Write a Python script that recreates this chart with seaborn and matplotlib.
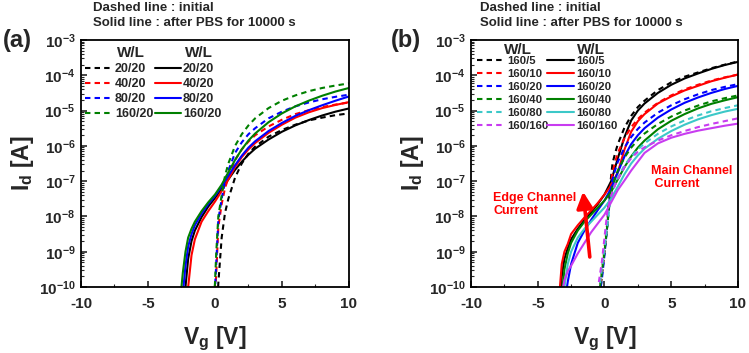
import math

import matplotlib
matplotlib.use("Agg")
import matplotlib.pyplot as plt
import pandas as pd
import seaborn as sns
from matplotlib.lines import Line2D
from matplotlib.ticker import FixedLocator, FuncFormatter, LogLocator, MultipleLocator, NullFormatter

# ---- data (log10 of drain current) ----
# panel (a): W/L = x/20
wl_a = ["20/20", "40/20", "80/20", "160/20"]
vg_a_initial = [-0.2, 0, 0.1, 0.25, 0.5, 0.75, 1, 1.5, 2, 2.5, 3, 4, 5, 6, 7, 8, 9, 10]
a_initial = {
    "20/20":  [-12.5, -11.5, -11.0, -9.9, -8.6, -7.9, -7.5, -6.9, -6.5, -6.22, -6.02, -5.74, -5.55, -5.4, -5.28, -5.2, -5.13, -5.08],
    "40/20":  [-11.2, -10.3, -9.6, -8.3, -7.65, -7.2, -6.9, -6.4, -6.1, -5.88, -5.7, -5.45, -5.26, -5.1, -4.99, -4.9, -4.83, -4.77],
    "80/20":  [-11.0, -10.1, -9.3, -8.1, -7.5, -7.0, -6.7, -6.2, -5.9, -5.67, -5.5, -5.22, -5.03, -4.88, -4.77, -4.68, -4.61, -4.55],
    "160/20": [-10.8, -9.9, -9.0, -8.0, -7.4, -6.85, -6.5, -6.0, -5.67, -5.42, -5.22, -4.93, -4.72, -4.57, -4.45, -4.36, -4.29, -4.23],
}
vg_a_pbs = [-2.6, -2.4, -2.2, -2, -1.75, -1.5, -1, -0.5, 0, 0.5, 1, 1.5, 2, 2.5, 3, 4, 5, 6, 7, 8, 9, 10]
a_pbs = {
    "20/20":  [-11.5, -10.7, -10.0, -9.2, -8.7, -8.4, -8.02, -7.72, -7.48, -7.22, -6.95, -6.68, -6.45, -6.25, -6.08, -5.82, -5.6, -5.42, -5.27, -5.14, -5.03, -4.94],
    "40/20":  [-12.0, -11.2, -10.5, -10.0, -9.1, -8.65, -8.15, -7.85, -7.58, -7.28, -6.95, -6.6, -6.32, -6.1, -5.92, -5.63, -5.4, -5.2, -5.05, -4.93, -4.84, -4.76],
    "80/20":  [-11.0, -10.2, -9.4, -8.85, -8.5, -8.25, -7.92, -7.65, -7.42, -7.15, -6.85, -6.55, -6.28, -6.05, -5.87, -5.58, -5.35, -5.15, -4.99, -4.85, -4.72, -4.6],
    "160/20": [-10.4, -9.6, -9.0, -8.6, -8.35, -8.15, -7.85, -7.6, -7.38, -7.1, -6.75, -6.4, -6.1, -5.85, -5.65, -5.33, -5.08, -4.88, -4.72, -4.58, -4.46, -4.36],
}

# panel (b): W/L = 160/x
wl_b = ["160/5", "160/10", "160/20", "160/40", "160/80", "160/160"]
vg_b_initial = [-0.6, -0.4, -0.2, 0, 0.2, 0.4, 0.6, 0.8, 1, 1.5, 2, 2.5, 3, 4, 5, 6, 7, 8, 9, 10]
b_initial = {
    "160/5":   [-11.0, -10.4, -9.7, -9.0, -8.3, -7.2, -6.5, -6.2, -5.95, -5.48, -5.15, -4.9, -4.72, -4.42, -4.2, -4.04, -3.92, -3.8, -3.7, -3.61],
    "160/10":  [-11.0, -10.3, -9.6, -8.9, -8.2, -7.3, -6.75, -6.45, -6.2, -5.78, -5.47, -5.24, -5.06, -4.78, -4.57, -4.4, -4.27, -4.15, -4.06, -3.98],
    "160/20":  [-10.8, -10.3, -9.8, -9.1, -8.3, -7.45, -6.95, -6.68, -6.45, -6.05, -5.75, -5.52, -5.34, -5.06, -4.85, -4.68, -4.54, -4.42, -4.33, -4.25],
    "160/40":  [-10.8, -10.2, -9.6, -9.0, -8.3, -7.55, -7.15, -6.9, -6.7, -6.33, -6.05, -5.83, -5.65, -5.38, -5.17, -5.0, -4.86, -4.74, -4.65, -4.57],
    "160/80":  [-10.7, -10.1, -9.5, -8.9, -8.3, -7.65, -7.3, -7.08, -6.9, -6.55, -6.3, -6.1, -5.93, -5.66, -5.45, -5.28, -5.14, -5.02, -4.93, -4.85],
    "160/160": [-10.4, -9.8, -9.3, -8.6, -7.9, -7.55, -7.3, -7.1, -6.95, -6.6, -6.35, -6.17, -6.04, -5.85, -5.7, -5.58, -5.47, -5.38, -5.3, -5.22],
}
vg_b_pbs = [-3.6, -3.4, -3.2, -3, -2.75, -2.5, -2, -1.5, -1, -0.5, 0, 0.5, 1, 1.5, 2, 2.5, 3, 4, 5, 6, 7, 8, 9, 10]
b_pbs = {
    "160/5":   [-11.5, -10.6, -9.7, -9.2, -8.9, -8.65, -8.35, -8.1, -7.88, -7.65, -7.38, -7.0, -6.35, -5.75, -5.28, -5.0, -4.8, -4.5, -4.27, -4.09, -3.95, -3.82, -3.71, -3.62],
    "160/10":  [-11.2, -10.3, -9.35, -9.0, -8.78, -8.5, -8.25, -8.03, -7.83, -7.62, -7.38, -7.12, -6.75, -6.1, -5.6, -5.3, -5.1, -4.8, -4.6, -4.43, -4.3, -4.17, -4.07, -3.98],
    "160/20":  [-12.0, -11.5, -11.0, -10.5, -9.85, -9.35, -8.75, -8.4, -8.1, -7.82, -7.55, -7.2, -6.75, -6.3, -5.95, -5.7, -5.5, -5.2, -4.97, -4.78, -4.63, -4.5, -4.39, -4.3],
    "160/40":  [-11.5, -10.8, -10.2, -9.5, -9.05, -8.75, -8.4, -8.15, -7.95, -7.75, -7.55, -7.3, -6.95, -6.6, -6.3, -6.05, -5.85, -5.53, -5.29, -5.1, -4.94, -4.81, -4.71, -4.62],
    "160/80":  [-11.8, -11.1, -10.5, -10.0, -9.35, -9.0, -8.6, -8.35, -8.15, -7.95, -7.75, -7.5, -7.15, -6.8, -6.5, -6.27, -6.08, -5.8, -5.58, -5.4, -5.25, -5.13, -5.03, -4.95],
    "160/160": [-11.5, -10.8, -10.2, -9.8, -9.55, -9.4, -9.05, -8.75, -8.45, -8.2, -7.95, -7.6, -7.25, -6.98, -6.7, -6.45, -6.2, -5.93, -5.77, -5.66, -5.57, -5.5, -5.43, -5.37],
}

colors_a = ["#000000", "#ff0000", "#0000ff", "#008000"]
colors_b = ["#000000", "#ff0000", "#0000ff", "#008000", "#3cc8c8", "#c83cf0"]

x_ticks = [-10, -5, 0, 5, 10]
y_decades = [-10, -9, -8, -7, -6, -5, -4, -3]


def to_long(vg, curves, state):
    rows = []
    for wl, logs in curves.items():
        for v, lg in zip(vg, logs):
            rows.append((v, 10.0 ** lg, wl, state))
    return pd.DataFrame(rows, columns=["Vg", "Id", "WL", "state"])


sns.set_theme(style="ticks")
plt.rcParams["font.family"] = ["Liberation Sans", "DejaVu Sans"]
plt.rcParams.update({
    "font.weight": "bold",
    "axes.unicode_minus": False,
    "mathtext.fontset": "custom",
    "mathtext.rm": "Liberation Sans:bold",
    "mathtext.bf": "Liberation Sans:bold",
    "mathtext.it": "Liberation Sans:bold:italic",
    "mathtext.default": "bf",
    "xtick.direction": "in",
    "ytick.direction": "in",
})

DASH = (2.6, 2.0)


def draw_panel(ax, wl, colors, vg_init, init, vg_pbs, pbs):
    df = pd.concat([to_long(vg_init, init, "initial"), to_long(vg_pbs, pbs, "PBS")])
    sns.lineplot(data=df, x="Vg", y="Id", hue="WL", style="state",
                 hue_order=wl, style_order=["initial", "PBS"],
                 palette=dict(zip(wl, colors)),
                 dashes={"initial": DASH, "PBS": ""},
                 estimator=None, sort=False, lw=1.5, legend=False, ax=ax)
    ax.set_yscale("log")
    ax.set_xlim(-10, 10)
    ax.set_ylim(1e-10, 1e-3)
    ax.xaxis.set_major_locator(FixedLocator(x_ticks))
    ax.xaxis.set_minor_locator(MultipleLocator(2.5))
    ax.yaxis.set_major_locator(FixedLocator([10.0 ** d for d in y_decades]))
    ax.yaxis.set_major_formatter(FuncFormatter(lambda v, p: r"$10^{%d}$" % round(math.log10(v))))
    ax.yaxis.set_minor_locator(LogLocator(base=10, subs=range(2, 10), numticks=20))
    ax.yaxis.set_minor_formatter(NullFormatter())
    ax.tick_params(axis="both", which="major", labelsize=11, length=4, width=1.2)
    ax.tick_params(axis="x", which="major", pad=7)
    ax.tick_params(axis="y", which="major", pad=4)
    ax.tick_params(axis="both", which="minor", length=2.2, width=0.8)
    for s in ax.spines.values():
        s.set_linewidth(1.3)
        s.set_color("black")
    for lab in ax.get_xticklabels() + ax.get_yticklabels():
        lab.set_fontweight("bold")
    ax.set_xlabel("V$_g$ [V]", fontsize=16.5, fontweight="bold", labelpad=10)
    ax.set_ylabel("I$_d$ [A]", fontsize=16.5, fontweight="bold", labelpad=2)


def add_legends(ax, wl, colors, x_dash, x_solid, y_top, spacing, hl, size, hdr_y, hdr_x):
    h_dash = [Line2D([], [], color=c, lw=1.5, dashes=DASH) for c in colors]
    h_solid = [Line2D([], [], color=c, lw=1.5) for c in colors]
    kw = dict(loc="upper left", frameon=False, borderpad=0, borderaxespad=0,
              handlelength=hl, labelspacing=spacing,
              prop={"size": size, "weight": "bold"})
    leg1 = ax.legend(h_dash, wl, bbox_to_anchor=(x_dash, y_top), handletextpad=0.3, **kw)
    ax.add_artist(leg1)
    ax.legend(h_solid, wl, bbox_to_anchor=(x_solid, y_top), handletextpad=0.15, **kw)
    for x in hdr_x:
        ax.text(x, hdr_y, "W/L", transform=ax.transAxes, ha="center", va="center",
                fontsize=11, fontweight="bold")


fig = plt.figure(figsize=(7.49, 3.53), dpi=100)
ax_a = fig.add_axes([0.1081, 0.187, 0.3578, 0.6997])
ax_b = fig.add_axes([0.6288, 0.187, 0.3565, 0.6997])

draw_panel(ax_a, wl_a, colors_a, vg_a_initial, a_initial, vg_a_pbs, a_pbs)
draw_panel(ax_b, wl_b, colors_b, vg_b_initial, b_initial, vg_b_pbs, b_pbs)

add_legends(ax_a, wl_a, colors_a, 0.015, 0.276, 0.906, 0.24, 2.1, 9, 0.946, (0.187, 0.44))
add_legends(ax_b, wl_b, colors_b, 0.021, 0.284, 0.935, 0.26, 2.4, 8.2, 0.96, (0.174, 0.448))

# annotations in panel (b)
ax_b.text(-8.35, 10 ** -7.32, "Edge Channel\nCurrent", color="#ff0000", fontsize=9,
          fontweight="bold", ha="left", va="top", linespacing=1.1)
ax_b.text(3.45, 10 ** -6.55, "Main Channel\n Current", color="#ff0000", fontsize=9,
          fontweight="bold", ha="left", va="top", linespacing=1.1)
ax_b.annotate("", xy=(-1.6, 10 ** -7.3), xytext=(-1.1, 10 ** -9.15),
              arrowprops=dict(arrowstyle="-|>,head_length=0.7,head_width=0.35",
                              color="#ff0000", lw=2.6, mutation_scale=14,
                              shrinkA=0, shrinkB=0))

# headers and panel tags
for x0 in (93, 480):
    fig.text(x0 / 749, 1 - 8 / 353, "Dashed line : initial", fontsize=9.5, fontweight="bold",
             ha="left", va="center")
    fig.text(x0 / 749, 1 - 23 / 353, "Solid line : after PBS for 10000 s", fontsize=9.5,
             fontweight="bold", ha="left", va="center")
fig.text(3 / 749, 1 - 41 / 353, "(a)", fontsize=17, fontweight="bold", ha="left", va="center")
fig.text(391 / 749, 1 - 41 / 353, "(b)", fontsize=17, fontweight="bold", ha="left", va="center")

fig.savefig("out.png", dpi=100)
